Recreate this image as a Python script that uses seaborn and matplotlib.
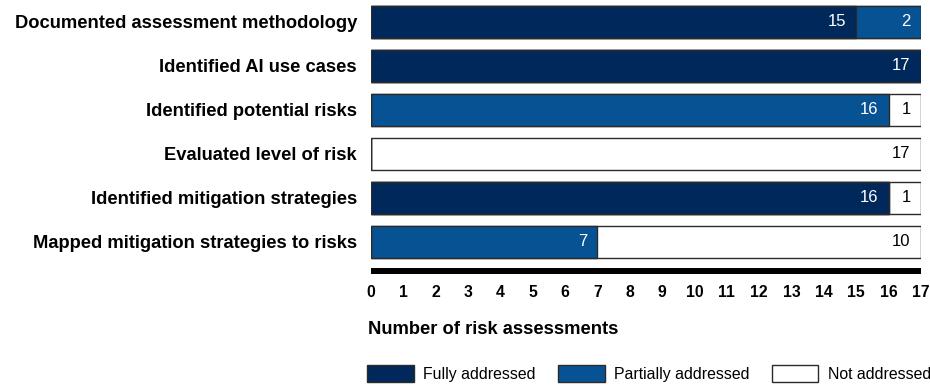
import matplotlib
matplotlib.use("Agg")
import matplotlib.pyplot as plt
import matplotlib.patches as mpatches
import numpy as np
import pandas as pd
import seaborn as sns

# Assessment elements and how many of the 17 risk assessments address each one
categories = [
    "Documented assessment methodology",
    "Identified AI use cases",
    "Identified potential risks",
    "Evaluated level of risk",
    "Identified mitigation strategies",
    "Mapped mitigation strategies to risks",
]
fully = [15, 17, 0, 0, 16, 0]
partially = [2, 0, 16, 0, 0, 7]
not_addressed = [0, 0, 1, 17, 1, 10]

series_names = ["Fully addressed", "Partially addressed", "Not addressed"]
x_ticks = list(range(0, 18))
x_label = "Number of risk assessments"

NAVY = "#00285a"
BLUE = "#065293"
WHITE = "#ffffff"
EDGE = "#2b2b2b"

sns.set_theme(style="white")
plt.rcParams["font.family"] = ["Liberation Sans", "DejaVu Sans"]
plt.rcParams.update({"text.color": "black", "axes.labelcolor": "black",
                     "xtick.color": "black", "ytick.color": "black"})

df = pd.DataFrame({
    "category": categories,
    "fully": fully,
    "partially": partially,
    "not": not_addressed,
})
df["c1"] = df["fully"]
df["c2"] = df["fully"] + df["partially"]
df["c3"] = df["c2"] + df["not"]

fig = plt.figure(figsize=(9.3, 3.85), dpi=100)
ax = fig.add_axes([371 / 930, 1 - 271 / 385, 550 / 930, 266 / 385])

# Stacked segments drawn as overlaid cumulative bars, longest first
for col, color in [("c3", WHITE), ("c2", BLUE), ("c1", NAVY)]:
    sns.barplot(data=df, x=col, y="category", orient="h", color=color,
                edgecolor=EDGE, linewidth=1.0, width=0.73, saturation=1,
                ax=ax, order=categories)

# Value labels at the right end of each segment
for i, row in df.iterrows():
    segs = [(row["fully"], row["c1"], WHITE),
            (row["partially"], row["c2"], WHITE),
            (row["not"], row["c3"], "black")]
    for val, end, tc in segs:
        if val > 0:
            ax.annotate(f"{val}", xy=(end, i), xytext=(-7.5, 0),
                        textcoords="offset points", ha="right", va="center",
                        color=tc, fontsize=12)

ax.set_xlim(0, 17)
ax.set_ylim(5.66, -0.385)
ax.set_xticks(x_ticks)
ax.set_xticklabels([str(t) for t in x_ticks], fontweight="bold", fontsize=11.3)
ax.tick_params(axis="x", length=0, pad=10)
ax.tick_params(axis="y", length=0, pad=10)
for lbl in ax.get_yticklabels():
    lbl.set_fontweight("bold")
    lbl.set_fontsize(13.2)
ax.set_xlabel("")
ax.set_ylabel("")
for s in ["top", "right", "left"]:
    ax.spines[s].set_visible(False)
ax.spines["bottom"].set_linewidth(4.3)
ax.spines["bottom"].set_color("black")
ax.spines["bottom"].set_capstyle("butt")

fig.text(368 / 930, 1 - 334 / 385, x_label, fontweight="bold",
         fontsize=13.2, ha="left", va="baseline")

handles = [mpatches.Patch(facecolor=c, edgecolor=EDGE, linewidth=1.0, label=n)
           for c, n in zip([NAVY, BLUE, WHITE], series_names)]
fig.legend(handles=handles, loc="center left",
           bbox_to_anchor=(367 / 930, 1 - 373.5 / 385), ncol=3, frameon=False,
           fontsize=11.4, handlelength=2.95, handleheight=1.2,
           handletextpad=0.6, columnspacing=1.4, borderpad=0, borderaxespad=0)

fig.savefig("out.png", dpi=100)
